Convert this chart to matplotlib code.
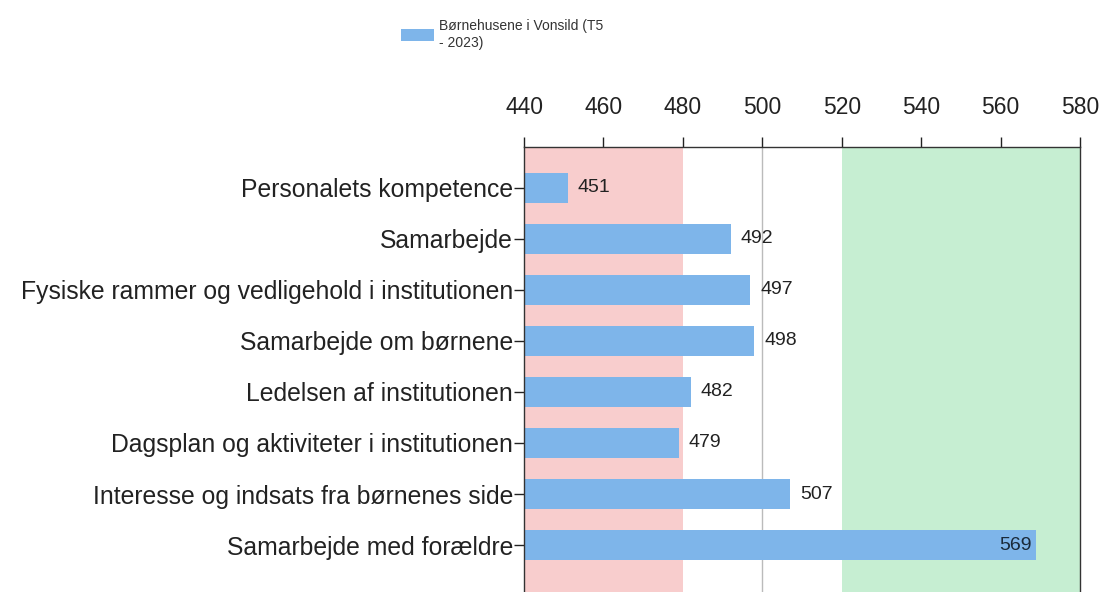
import matplotlib
matplotlib.use("Agg")
import matplotlib.pyplot as plt
from matplotlib.patches import Patch

categories = [
    "Personalets kompetence",
    "Samarbejde",
    "Fysiske rammer og vedligehold i institutionen",
    "Samarbejde om børnene",
    "Ledelsen af institutionen",
    "Dagsplan og aktiviteter i institutionen",
    "Interesse og indsats fra børnenes side",
    "Samarbejde med forældre",
]
values = [451, 492, 497, 498, 482, 479, 507, 569]
series_name = "Børnehusene i Vonsild (T5\n- 2023)"
xticks = [440, 460, 480, 500, 520, 540, 560, 580]

plt.rcParams['font.family'] = ['Liberation Sans', 'DejaVu Sans']

W, H = 1104, 592
fig = plt.figure(figsize=(W / 100, H / 100), dpi=100)
left, right, top, bottom = 524, 1080, 147, 592
ax = fig.add_axes([left / W, 1 - bottom / H, (right - left) / W, (bottom - top) / H])

ax.axvspan(440, 480, color="#F8CDCD", zorder=0, lw=0)
ax.axvspan(520, 580, color="#C6EED2", zorder=0, lw=0)
ax.axvline(500, color="#BBBBBB", lw=1, zorder=1)

y = list(range(len(categories)))
bar_left = 440
ax.barh(y, [v - bar_left for v in values], left=bar_left, height=0.6,
        color="#7EB5EA", zorder=2)

for yi, v in zip(y, values):
    if v > 560:
        ax.text(v - 1.2, yi, str(v), ha="right", va="center", fontsize=14, color="#1a2a3a", zorder=3)
    else:
        ax.text(v + 2.5, yi, str(v), ha="left", va="center", fontsize=14, color="#222222", zorder=3)

ax.set_xlim(440, 580)
ax.set_ylim(7.92, -0.8)
ax.set_xticks(xticks)
ax.xaxis.tick_top()
ax.tick_params(axis="x", labelsize=16.5, length=7, width=1, direction="out", pad=13, colors="#222222")
ax.set_yticks(y)
ax.set_yticklabels(categories)
ax.tick_params(axis="y", labelsize=17.8, length=7, width=1, pad=1, colors="#222222")

ax.spines["bottom"].set_visible(False)
for s in ["top", "left", "right"]:
    ax.spines[s].set_color("#333333")
    ax.spines[s].set_linewidth(1)

leg = fig.legend(handles=[Patch(facecolor="#7EB5EA", edgecolor="none", label=series_name)],
                 loc="upper left", bbox_to_anchor=(388 / W, 1 - 6 / H), frameon=False,
                 fontsize=10, handlelength=2.4, handleheight=0.9, handletextpad=0.4,
                 labelspacing=0.2)
for t in leg.get_texts():
    t.set_color("#333333")
    t.set_linespacing(1.3)

fig.savefig("out.png", dpi=100)
